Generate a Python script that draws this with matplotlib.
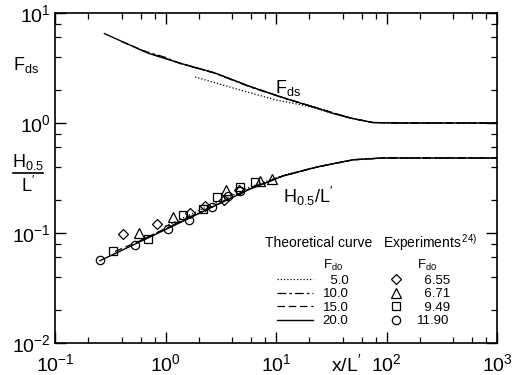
import matplotlib
matplotlib.use('Agg')
import matplotlib.pyplot as plt
from matplotlib.lines import Line2D
from matplotlib.ticker import LogLocator, NullFormatter

plt.rcParams['font.family'] = ['Liberation Sans', 'DejaVu Sans']
plt.rcParams['mathtext.fontset'] = 'custom'
plt.rcParams['mathtext.rm'] = 'Liberation Sans'
plt.rcParams['mathtext.it'] = 'Liberation Sans:italic'
plt.rcParams['mathtext.bf'] = 'Liberation Sans:bold'

# theoretical curves, Fds vs x/L'
fds_x_20 = [0.28, 0.7, 1.35, 2.8, 5.8, 11.6, 16.5, 23.5, 34, 47, 75, 130, 1000]
fds_y_20 = [6.5, 4.3, 3.5, 2.85, 2.15, 1.7, 1.52, 1.37, 1.21, 1.11, 1.01, 1.0, 1.0]
fds_x_15 = [0.4, 0.7, 1.35, 2.8, 5.8, 11.6, 23.5, 47, 75, 130, 1000]
fds_y_15 = [5.5, 4.35, 3.5, 2.85, 2.15, 1.7, 1.37, 1.11, 1.01, 1.0, 1.0]
fds_x_10 = [0.6, 1.0, 1.35, 2.8, 5.8, 11.6, 23.5, 47, 75, 130, 1000]
fds_y_10 = [4.6, 3.95, 3.48, 2.83, 2.13, 1.69, 1.37, 1.11, 1.01, 1.0, 1.0]
fds_x_5 = [1.85, 3.0, 5.4, 10, 19.5, 30, 47, 75, 130, 1000]
fds_y_5 = [2.62, 2.28, 1.92, 1.62, 1.42, 1.25, 1.11, 1.01, 1.0, 1.0]

# theoretical curves, H0.5/L' vs x/L'
h_x_20 = [0.255, 0.724, 2.05, 5.82, 11.6, 23.5, 49.8, 93, 1000]
h_y_20 = [0.056, 0.092, 0.152, 0.251, 0.33, 0.398, 0.463, 0.481, 0.481]
h_x_15 = [0.35, 0.724, 2.05, 5.82, 11.6, 23.5, 49.8, 93, 1000]
h_y_15 = [0.068, 0.093, 0.153, 0.252, 0.33, 0.398, 0.463, 0.481, 0.481]
h_x_10 = [0.6, 1.0, 2.05, 5.82, 11.6, 23.5, 49.8, 93, 1000]
h_y_10 = [0.086, 0.11, 0.155, 0.254, 0.331, 0.398, 0.463, 0.481, 0.481]
h_x_5 = [1.0, 2.05, 5.82, 11.6, 23.5, 49.8, 93, 1000]
h_y_5 = [0.115, 0.162, 0.262, 0.335, 0.4, 0.463, 0.481, 0.481]

# experiments (ref. 24)
dia_x = [0.416, 0.834, 1.67, 2.29, 3.4, 4.6]
dia_y = [0.098, 0.121, 0.153, 0.177, 0.20, 0.245]
tri_x = [0.58, 1.16, 3.55, 7.2, 9.2]
tri_y = [0.101, 0.140, 0.248, 0.30, 0.31]
sq_x = [0.338, 0.70, 1.44, 2.2, 2.92, 4.69, 6.5]
sq_y = [0.069, 0.088, 0.146, 0.164, 0.211, 0.262, 0.29]
circ_x = [0.256, 0.531, 1.06, 1.62, 2.63, 3.7, 4.7]
circ_y = [0.0566, 0.078, 0.108, 0.131, 0.171, 0.219, 0.239]

theory_labels = ['\u20075.0', '10.0', '15.0', '20.0']
exp_labels = ['\u20076.55', '\u20076.71', '\u20079.49', '11.90']

fig = plt.figure(figsize=(5.17, 3.75), dpi=100)
ax = fig.add_axes([55 / 517, 1 - 343 / 375, 442 / 517, 330 / 375])

dot = dict(color='k', lw=0.9, ls=(0, (1, 1.6)))
dashdot = dict(color='k', lw=0.9, ls=(0, (7, 2.5, 2, 2.5)))
dash = dict(color='k', lw=0.9, ls=(0, (6, 3)))
solid = dict(color='k', lw=1.0, ls='-')

ax.plot(fds_x_5, fds_y_5, **dot)
ax.plot(fds_x_10, fds_y_10, **dashdot)
ax.plot(fds_x_15, fds_y_15, **dash)
ax.plot(fds_x_20, fds_y_20, **solid)
ax.plot(h_x_5, h_y_5, **dot)
ax.plot(h_x_10, h_y_10, **dashdot)
ax.plot(h_x_15, h_y_15, **dash)
ax.plot(h_x_20, h_y_20, **solid)

mk = dict(ls='none', mfc='none', mec='k', mew=0.9)
ax.plot(dia_x, dia_y, marker='D', ms=5.5, **mk)
ax.plot(tri_x, tri_y, marker='^', ms=6.5, **mk)
ax.plot(sq_x, sq_y, marker='s', ms=5.5, **mk)
ax.plot(circ_x, circ_y, marker='o', ms=6, **mk)

ax.set_xscale('log')
ax.set_yscale('log')
ax.set_xlim(0.1, 1000)
ax.set_ylim(0.01, 10)
for axis in (ax.xaxis, ax.yaxis):
    axis.set_minor_locator(LogLocator(base=10, subs=(2, 4, 6, 8)))
    axis.set_minor_formatter(NullFormatter())
ax.tick_params(which='both', direction='in', top=True, right=True, labelsize=14)
ax.tick_params(which='major', length=8, width=1.0)
ax.tick_params(axis='x', which='major', pad=7)
ax.tick_params(axis='y', which='major', pad=3)
ax.tick_params(which='minor', length=4.5, width=0.9)
for sp in ax.spines.values():
    sp.set_linewidth(1.2)

# curve labels
ax.text(12.9, 2.07, 'F$_{\\rm ds}$', fontsize=13, ha='center', va='center')
ax.text(19.5, 0.217, 'H$_{0.5}$/L$^{\\prime}$', fontsize=13, ha='center', va='center')

# axis labels
fig.text(26 / 517, 1 - 65 / 375, 'F$_{\\rm ds}$', fontsize=13, ha='center', va='center')
fig.text(28 / 517, 1 - 162 / 375, 'H$_{0.5}$', fontsize=13, ha='center', va='center')
fig.add_artist(Line2D([13 / 517, 43 / 517], [1 - 173 / 375, 1 - 173 / 375], color='k', lw=1.2))
fig.text(28 / 517, 1 - 186 / 375, 'L$^{\\prime}$', fontsize=13, ha='center', va='center')
fig.text(346 / 517, 1 - 364 / 375, 'x/L$^{\\prime}$', fontsize=14, ha='center', va='center')

# legends
ax.text((265 - 55) / 442, (343 - 243) / 330, 'Theoretical curve', transform=ax.transAxes,
        fontsize=10, ha='left', va='center')
ax.text((383 - 55) / 442, (343 - 243) / 330, 'Experiments$^{\\,24)}$', transform=ax.transAxes,
        fontsize=10, ha='left', va='center')

blank = Line2D([], [], color='none')
h_theory = [blank] + [Line2D([], [], **s) for s in (dot, dashdot, dash, solid)]
leg1 = ax.legend(h_theory, ['F$_{\\rm d0}$'] + theory_labels,
                 loc='upper left', bbox_to_anchor=((277 - 55) / 442, (343 - 258) / 330),
                 frameon=False, fontsize=9.5, handlelength=2.7, handletextpad=0.76,
                 labelspacing=0.1, borderpad=0, borderaxespad=0)
ax.add_artist(leg1)
h_exp = [blank] + [Line2D([], [], marker=m, ms=s, **mk) for m, s in
                   (('D', 5.5), ('^', 6.5), ('s', 5.5), ('o', 6))]
ax.legend(h_exp, ['F$_{\\rm d0}$'] + exp_labels,
          loc='upper left', bbox_to_anchor=((386 - 55) / 442, (343 - 258) / 330),
          frameon=False, fontsize=9.5, handlelength=1.5, handletextpad=0.85,
          labelspacing=0.1, borderpad=0, borderaxespad=0)

fig.savefig('out.png', dpi=100)
